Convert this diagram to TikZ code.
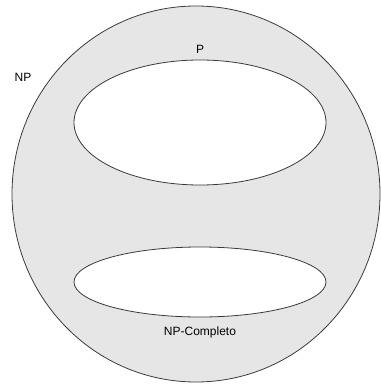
\documentclass[tikz,border=0pt]{standalone}
\usepackage{fontspec}
\setmainfont{Liberation Sans}
\usepackage{xcolor}
\usepackage{tikz}
\usetikzlibrary{positioning,shapes.geometric}
\definecolor{setgray}{HTML}{E6E6E6}
\definecolor{edgegray}{HTML}{3A3A3A}
\tikzset{
  bigset/.style ={draw=edgegray, ellipse, fill=setgray, line width=0.8pt, inner sep=0pt, minimum width=368pt, minimum height=376pt},
  subset/.style ={draw=edgegray, ellipse, fill=white, line width=0.8pt, inner sep=0pt, minimum width=252pt},
  lbl/.style    ={inner sep=0pt, font=\fontsize{12}{14}\selectfont},
}

\begin{document}
\begin{tikzpicture}[x=1pt, y=-1pt]
  \useasboundingbox (0,0) rectangle (380,385);
  % Outer class
  \node[bigset] (np) at (196, 194) {};
  % Inner classes
  \node[subset, minimum height=125pt] (p)  at (200, 122.5) {};
  \node[subset, minimum height=70pt]  (npc) at (200, 282) {};

  % Labels
  \node[lbl] (nplbl)  at (23, 77)  {NP};
  \node[lbl, above=6pt of p.north] (plbl) {P};
  \node[lbl, below=9pt of npc.south] (npclbl) {NP-Completo};
\end{tikzpicture}
\end{document}
